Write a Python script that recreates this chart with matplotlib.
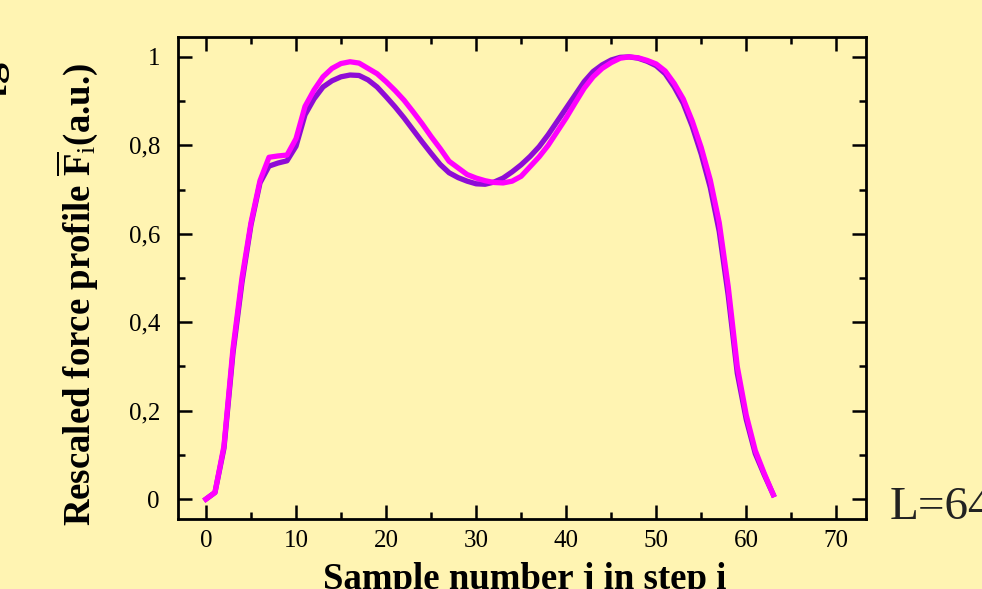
import matplotlib

matplotlib.use("Agg")
import matplotlib.pyplot as plt
import numpy as np
from matplotlib.ticker import FixedFormatter, MultipleLocator

plt.rcParams["font.family"] = ["Liberation Serif", "DejaVu Serif"]
plt.rcParams["mathtext.fontset"] = "custom"
plt.rcParams["mathtext.rm"] = "Liberation Serif"
plt.rcParams["mathtext.bf"] = "Liberation Serif:bold"
plt.rcParams["mathtext.it"] = "Liberation Serif:italic"

# sample index j = 0..63
samples = np.arange(64)

# averaged force profile (purple)
profile_avg = [
    0.0, 0.015, 0.115, 0.33, 0.49, 0.62, 0.715, 0.753, 0.76, 0.765,
    0.798, 0.869, 0.905, 0.932, 0.946, 0.955, 0.959, 0.958, 0.948, 0.932,
    0.91, 0.887, 0.862, 0.835, 0.808, 0.782, 0.757, 0.738, 0.727, 0.719,
    0.713, 0.712, 0.717, 0.726, 0.74, 0.756, 0.775, 0.797, 0.824, 0.854,
    0.884, 0.914, 0.944, 0.967, 0.982, 0.993, 0.999, 1.0, 0.997, 0.99,
    0.98, 0.962, 0.932, 0.895, 0.843, 0.78, 0.705, 0.605, 0.46, 0.285,
    0.18, 0.103, 0.055, 0.01,
]

# single step force profile (magenta)
profile_step = [
    0.0, 0.015, 0.12, 0.34, 0.50, 0.625, 0.72, 0.773, 0.776, 0.778,
    0.815, 0.888, 0.925, 0.955, 0.974, 0.985, 0.989, 0.986, 0.974, 0.962,
    0.944, 0.924, 0.902, 0.876, 0.849, 0.82, 0.793, 0.764, 0.749, 0.734,
    0.726, 0.72, 0.716, 0.715, 0.719, 0.73, 0.752, 0.774, 0.80, 0.831,
    0.862, 0.896, 0.929, 0.955, 0.974, 0.987, 0.997, 1.0, 0.998, 0.992,
    0.984, 0.968, 0.94, 0.905, 0.855, 0.795, 0.722, 0.625, 0.48, 0.30,
    0.19, 0.11, 0.058, 0.01,
]

y_ticks = [0.0, 0.2, 0.4, 0.6, 0.8, 1.0]
y_tick_labels = ["0", "0,2", "0,4", "0,6", "0,8", "1"]
x_ticks = [0, 10, 20, 30, 40, 50, 60, 70]

bg = "#FFF4B2"
fig = plt.figure(figsize=(9.82, 5.89), dpi=100, facecolor=bg)
ax = fig.add_axes([0.1813, 0.1188, 0.7006, 0.8184], facecolor=bg)

ax.plot(samples, profile_avg, color="#8E0CD6", linewidth=3.8, solid_joinstyle="round")
ax.plot(samples, profile_step, color="#FF00FF", linewidth=3.8, solid_joinstyle="round")

ax.set_xlim(-3.1, 73.3)
ax.set_ylim(-0.045, 1.045)
ax.set_xticks(x_ticks)
ax.xaxis.set_minor_locator(MultipleLocator(5))
ax.set_yticks(y_ticks)
ax.yaxis.set_major_formatter(FixedFormatter(y_tick_labels))
ax.yaxis.set_minor_locator(MultipleLocator(0.1))

for spine in ax.spines.values():
    spine.set_linewidth(2.0)
ax.tick_params(which="both", direction="in", top=True, right=True, width=1.8, colors="black")
ax.tick_params(which="major", length=10)
ax.tick_params(which="minor", length=5)
ax.tick_params(axis="x", which="major", labelsize=18, pad=8)
ax.tick_params(axis="y", which="major", labelsize=18, pad=13)

ax.set_ylabel(r"Rescaled force profile $\overline{\mathbf{F}}_{\mathrm{i}}$(a.u.)",
              fontsize=26.5, fontweight="bold")
ax.yaxis.set_label_coords(-0.113, 0.465)
ax.set_xlabel("Sample number j in step i", fontsize=26.5, fontweight="bold")
ax.xaxis.set_label_coords(0.504, -0.089)

fig.text(0.906, 0.119, "L=64", fontsize=34, color="#222222", va="baseline", ha="left")
# cut-off label of the neighbouring panel
fig.text(0.009, 0.855, "I[g", fontsize=30, fontweight="bold", rotation=90,
         ha="right", va="center")

fig.savefig("out.png", dpi=100, facecolor=bg)
